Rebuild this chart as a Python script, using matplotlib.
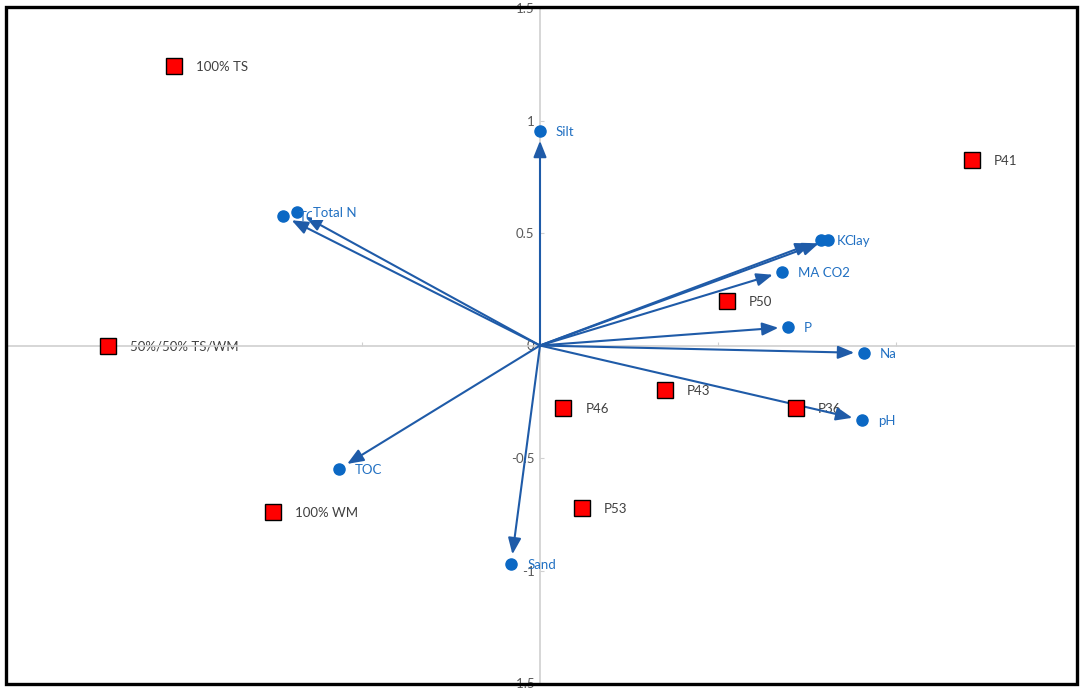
import matplotlib.pyplot as plt
from matplotlib.patches import Rectangle

plt.rcParams['font.family'] = ['Lato', 'DejaVu Sans']

# sample scores (red squares)
sample_names = ['100% TS', 'P41', '50%/50% TS/WM', 'P50', 'P43', 'P46', 'P36', '100% WM', 'P53']
sample_x = [-1.028, 1.213, -1.213, 0.525, 0.351, 0.065, 0.719, -0.750, 0.118]
sample_y = [1.242, 0.824, 0.0, 0.198, -0.198, -0.278, -0.278, -0.740, -0.722]

# variable loadings (blue arrows)
var_names = ['Silt', 'TC', 'Total N', 'K', 'Clay', 'MA CO2', 'P', 'Na', 'pH', 'TOC', 'Sand']
var_x = [0.0, -0.722, -0.683, 0.789, 0.809, 0.680, 0.697, 0.910, 0.904, -0.565, -0.081]
var_y = [0.953, 0.576, 0.593, 0.469, 0.469, 0.327, 0.082, -0.033, -0.331, -0.549, -0.971]

yticks = [-1.5, -1, -0.5, 0, 0.5, 1, 1.5]
ytick_labels = ['-1.5', '-1', '-0.5', '0', '0.5', '1', '1.5']
xticks = [-1.0, -0.5, 0.5, 1.0]

arrow_col = '#1F5BA8'
dot_col = '#0B68C4'
lab_col = '#2170C2'

fig = plt.figure(figsize=(10.84, 6.92), dpi=100)
ax = fig.add_axes([6 / 1084, 9 / 692, 1068 / 1084, 675 / 692])
ax.set_xlim(-1.5, 1.5)
ax.set_ylim(-1.5, 1.5)

for s in ['top', 'right']:
    ax.spines[s].set_visible(False)
ax.spines['left'].set_position('zero')
ax.spines['bottom'].set_position('zero')
for s in ['left', 'bottom']:
    ax.spines[s].set_color('#D0D0D0')
    ax.spines[s].set_linewidth(1.2)
ax.set_yticks(yticks)
ax.set_yticklabels(ytick_labels)
ax.set_xticks(xticks)
ax.set_xticklabels([])
ax.tick_params(axis='both', direction='in', length=3, color='#D0D0D0', labelsize=9.5,
               labelcolor='#595959', pad=4)

# arrows from origin
for x, y in zip(var_x, var_y):
    ax.annotate('', xy=(x, y), xytext=(0, 0),
                arrowprops=dict(arrowstyle='-|>,head_length=0.7,head_width=0.28',
                                color=arrow_col, lw=1.5, shrinkA=0, shrinkB=7,
                                mutation_scale=14), zorder=3)
ax.plot(var_x, var_y, 'o', color=dot_col, markersize=8, zorder=4)
for name, x, y in zip(var_names, var_x, var_y):
    ax.annotate(name, (x, y), xytext=(11.5, -1), textcoords='offset points',
                va='center', ha='left', fontsize=9.5, color=lab_col, zorder=5,
                bbox=dict(boxstyle='square,pad=0.05', fc='white', ec='none') if name == 'Total N' else None)

# sample squares
ax.plot(sample_x, sample_y, 's', color='#FF0000', markeredgecolor='black',
        markeredgewidth=1.0, markersize=11, zorder=4)
for name, x, y in zip(sample_names, sample_x, sample_y):
    ax.annotate(name, (x, y), xytext=(16, -1), textcoords='offset points',
                va='center', ha='left', fontsize=9.5, color='#404040', zorder=2,
                bbox=dict(boxstyle='square,pad=0.1', fc='white', ec='none'))

frame = Rectangle((6 / 1084, 8 / 692), 1071 / 1084, 677 / 692, transform=fig.transFigure,
                  fill=False, ec='black', lw=2.4, zorder=10)
fig.patches.append(frame)

fig.savefig('out.png', dpi=100)
